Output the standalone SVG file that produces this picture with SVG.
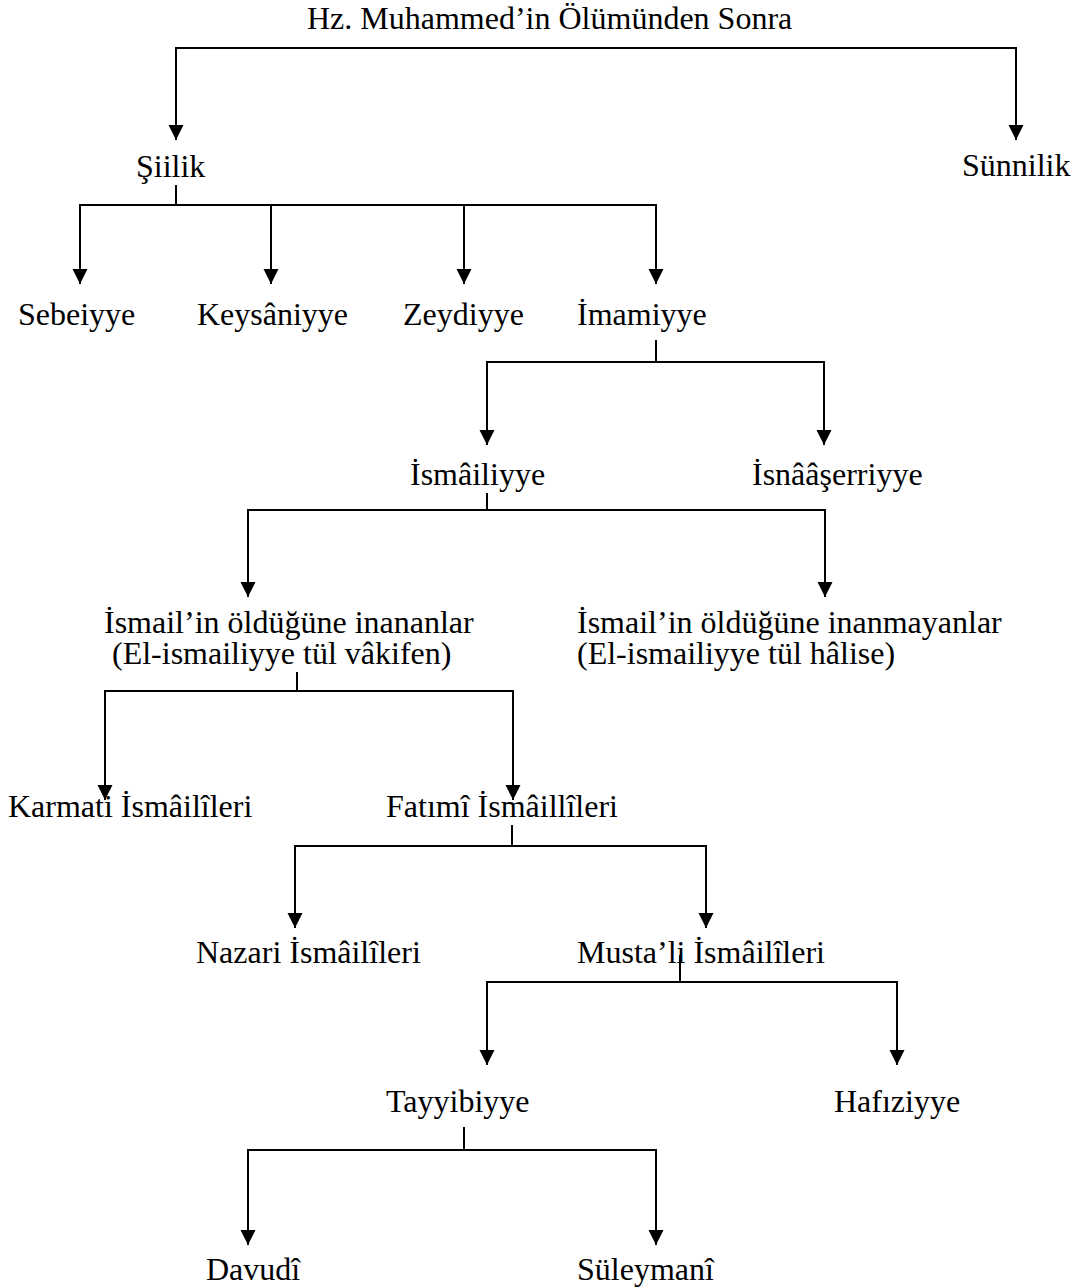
<svg xmlns="http://www.w3.org/2000/svg" width="1082" height="1288" viewBox="0 0 1082 1288">
<style>
text{font-family:"Liberation Serif","Times New Roman",serif;font-size:32px;fill:#000}
.c{fill:none;stroke:#000;stroke-width:2}
</style>
<defs>
<marker id="ah" markerUnits="userSpaceOnUse" markerWidth="16" markerHeight="16" refX="15" refY="8" orient="auto-start-reverse">
<path d="M0,0.5 L15,8 L0,15.5 z" fill="#000"/>
</marker>
</defs>
<rect width="1082" height="1288" fill="#fff"/>
<g id="connectors">
<path class="c" d="M176,140 V48 H1016 V140" marker-start="url(#ah)" marker-end="url(#ah)"/>
<path class="c" d="M176,185 V205"/>
<path class="c" d="M80,284 V205 H656 V284" marker-start="url(#ah)" marker-end="url(#ah)"/>
<path class="c" d="M271,205 V284" marker-end="url(#ah)"/>
<path class="c" d="M464,205 V284" marker-end="url(#ah)"/>
<path class="c" d="M656,340 V362"/>
<path class="c" d="M487,445 V362 H824 V445" marker-start="url(#ah)" marker-end="url(#ah)"/>
<path class="c" d="M487,493 V510"/>
<path class="c" d="M248,597 V510 H825 V597" marker-start="url(#ah)" marker-end="url(#ah)"/>
<path class="c" d="M297,672 V691"/>
<path class="c" d="M105,800 V691 H513 V800" marker-start="url(#ah)" marker-end="url(#ah)"/>
<path class="c" d="M512,825 V846"/>
<path class="c" d="M295,928 V846 H706 V928" marker-start="url(#ah)" marker-end="url(#ah)"/>
<path class="c" d="M680,955 V982"/>
<path class="c" d="M487,1065 V982 H897 V1065" marker-start="url(#ah)" marker-end="url(#ah)"/>
<path class="c" d="M464,1127 V1150"/>
<path class="c" d="M248,1245 V1150 H656 V1245" marker-start="url(#ah)" marker-end="url(#ah)"/>
</g>
<g id="n-root"><text x="307" y="29">Hz. Muhammed’in Ölümünden Sonra</text></g>
<g id="n-siilik"><text x="136" y="177">Şiilik</text></g>
<g id="n-sunnilik"><text x="962" y="176">Sünnilik</text></g>
<g id="n-sebeiyye"><text x="18" y="325">Sebeiyye</text></g>
<g id="n-keysaniyye"><text x="197" y="325">Keysâniyye</text></g>
<g id="n-zeydiyye"><text x="403" y="325">Zeydiyye</text></g>
<g id="n-imamiyye"><text x="577" y="325">İmamiyye</text></g>
<g id="n-ismailiyye"><text x="410" y="485">İsmâiliyye</text></g>
<g id="n-isnaaserriyye"><text x="752" y="485">İsnââşerriyye</text></g>
<g id="n-inananlar"><text x="104" y="633">İsmail’in öldüğüne inananlar</text><text x="112" y="664">(El-ismailiyye tül vâkifen)</text></g>
<g id="n-inanmayanlar"><text x="577" y="633">İsmail’in öldüğüne inanmayanlar</text><text x="577" y="664">(El-ismailiyye tül hâlise)</text></g>
<g id="n-karmati"><text x="8" y="817">Karmati İsmâilîleri</text></g>
<g id="n-fatimi"><text x="386" y="817">Fatımî İsmâillîleri</text></g>
<g id="n-nazari"><text x="196" y="963">Nazari İsmâilîleri</text></g>
<g id="n-mustali"><text x="577" y="963">Musta’li İsmâilîleri</text></g>
<g id="n-tayyibiyye"><text x="386" y="1112">Tayyibiyye</text></g>
<g id="n-hafiziyye"><text x="834" y="1112">Hafıziyye</text></g>
<g id="n-davudi"><text x="206" y="1280">Davudî</text></g>
<g id="n-suleymani"><text x="577" y="1280">Süleymanî</text></g>
</svg>
